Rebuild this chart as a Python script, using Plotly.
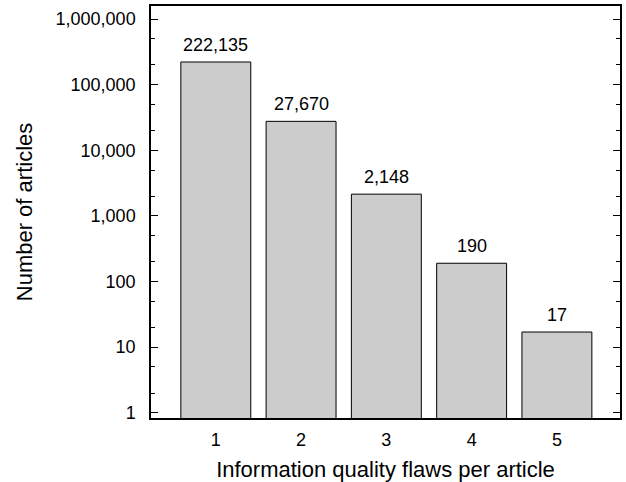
import math
import plotly.graph_objects as go

categories = [1, 2, 3, 4, 5]
counts = [222135, 27670, 2148, 190, 17]
count_labels = ["222,135", "27,670", "2,148", "190", "17"]
y_tickvals = [1, 10, 100, 1000, 10000, 100000, 1000000]
y_ticktext = ["1", "10", "100", "1,000", "10,000", "100,000", "1,000,000"]

FONT = "Liberation Sans, Arial, Helvetica, sans-serif"

fig = go.Figure()
fig.add_trace(go.Bar(
    x=categories, y=counts,
    marker=dict(color="#cccccc", line=dict(color="black", width=1)),
    showlegend=False, hoverinfo="skip",
))

for c, v, t in zip(categories, counts, count_labels):
    fig.add_annotation(x=c, y=math.log10(v), yref="y", xref="x", text=t, showarrow=False,
                       yanchor="middle", yshift=17,
                       font=dict(family=FONT, size=18, color="black"))

fig.update_layout(
    width=626, height=482,
    margin=dict(l=151, r=6, t=6, b=64),
    paper_bgcolor="white", plot_bgcolor="white",
    bargap=0.18,
    font=dict(family=FONT, size=18, color="black"),
)
fig.update_xaxes(
    range=[0.24, 5.74], tickvals=categories, ticktext=[str(c) for c in categories],
    showgrid=False, zeroline=False, showline=True, linecolor="black", linewidth=1.5,
    mirror=True, ticks="", ticklabelstandoff=5, automargin=False,
    title=dict(text="Information quality flaws per article", font=dict(size=22), standoff=13),
)
fig.update_yaxes(
    type="log", range=[-0.08, 6.2], tickvals=y_tickvals, ticktext=y_ticktext,
    showgrid=False, zeroline=False, showline=True, linecolor="black", linewidth=1.5,
    mirror="ticks", ticks="inside", ticklen=7, tickwidth=1, tickcolor="black",
    ticklabelstandoff=10, automargin=False,
    minor=dict(ticks="inside", ticklen=4, tickwidth=1, tickcolor="black", dtick="D2", showgrid=False),
    title=dict(text="Number of articles", font=dict(size=22), standoff=17),
)

fig.write_html("out.html", config={"displayModeBar": False},
               post_script="document.body.style.margin='0';")
